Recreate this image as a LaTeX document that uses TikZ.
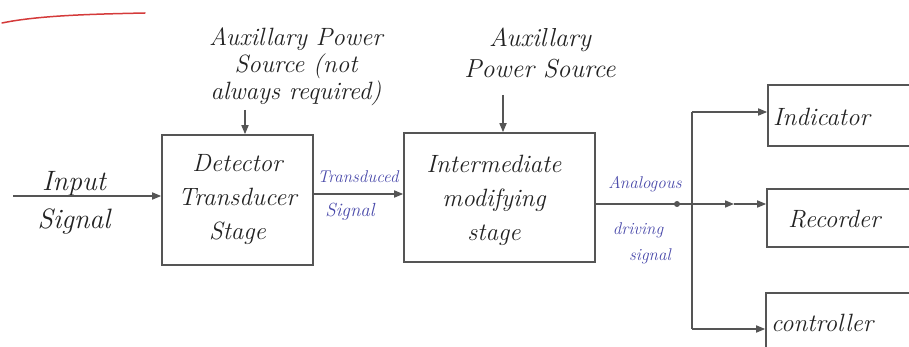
\documentclass[tikz,border=0pt]{standalone}
\usetikzlibrary{arrows.meta,calc}
\definecolor{ln}{HTML}{555555}
\definecolor{ink}{HTML}{222222}
\definecolor{bink}{HTML}{4A4AAA}
\definecolor{rink}{HTML}{D43A3A}
\begin{document}
\begin{tikzpicture}[x=1pt,y=-1pt,
  box/.style={draw=ln,line width=1.6pt,inner sep=0pt},
  arr/.style={draw=ln,line width=1.6pt,-{Triangle[length=9pt,width=7pt]}},
  wire/.style={draw=ln,line width=1.6pt},
  hand/.style={text=ink,font=\itshape\fontsize{25}{34}\selectfont,align=center,inner sep=0pt},
  blab/.style={text=bink,font=\itshape\fontsize{17}{20}\selectfont,inner sep=0pt}]
\useasboundingbox (0,0) rectangle (909,347);
\clip (0,0) rectangle (909,347);
% red underline
\draw[rink,line width=1.5pt,line cap=round] (2,23) .. controls (40,15) and (100,14) .. (145,13);
% boxes
\node[box,minimum width=151pt,minimum height=130pt] (det) at (237.5,200) {};
\node[hand] at (det.center) {Detector\\Transducer\\Stage};
\node[box,minimum width=191pt,minimum height=129pt] (mid) at (499.5,197.5) {};
\node[hand] at (494,200) {Intermediate\\modifying\\stage};
\node[box,minimum width=150pt,minimum height=61pt] (ind) at (843,115.5) {};
\node[hand,anchor=west] at (773,117) {Indicator};
\node[box,minimum width=150pt,minimum height=58pt] (rec) at (842,218) {};
\node[hand,anchor=west] at (788,219) {Recorder};
\node[box,minimum width=150pt,minimum height=70pt] (con) at (841,328) {};
\node[hand,anchor=west] at (771,323) {controller};
% labels
\node[hand,font=\itshape\fontsize{28}{38}\selectfont] (inp) at (74,203) {Input\\Signal};
\node[blab] (ts1) at (358,177) {Transduced};
\node[blab,font=\itshape\fontsize{19}{22}\selectfont] (ts2) at (350,212) {Signal};
\node[blab] (an1) at (645,184) {Analogous};
\node[blab] (an2) at (638,230) {driving};
\node[blab] (an3) at (650,256) {signal};
\node[hand,font=\itshape\fontsize{25}{27}\selectfont] (aux1) at (296,67) {Auxillary Power\\Source (not\\always required)};
\node[hand,font=\itshape\fontsize{26}{31}\selectfont] (aux2) at (540,53) {Auxillary\\Power Source};
% connectors
\coordinate (in0) at (13,196);
\draw[arr] (in0) -- (in0 -| det.west);
\coordinate (t0) at (313,194);
\draw[arr] (t0) -- (t0 -| mid.west);
\coordinate (a1) at (245,110);
\draw[arr] (a1) -- (a1 |- det.north);
\coordinate (a2) at (503,95);
\draw[arr] (a2) -- (a2 |- mid.north);
\coordinate (o0) at (595,204);
\coordinate (jd) at (677,204);
\coordinate (vtop) at (692,112);
\coordinate (vbot) at (692,329);
\draw[wire] (o0) -- (jd);
\fill[ln] (jd) circle (3pt);
\draw[arr] (jd) -- (734,204);
\draw[arr] (734,204) -- (734,204 -| rec.west);
\draw[wire] (vtop) -- (vbot);
\draw[arr] (vtop) -- (vtop -| ind.west);
\draw[arr] (vbot) -- (vbot -| con.west);
\end{tikzpicture}
\end{document}
